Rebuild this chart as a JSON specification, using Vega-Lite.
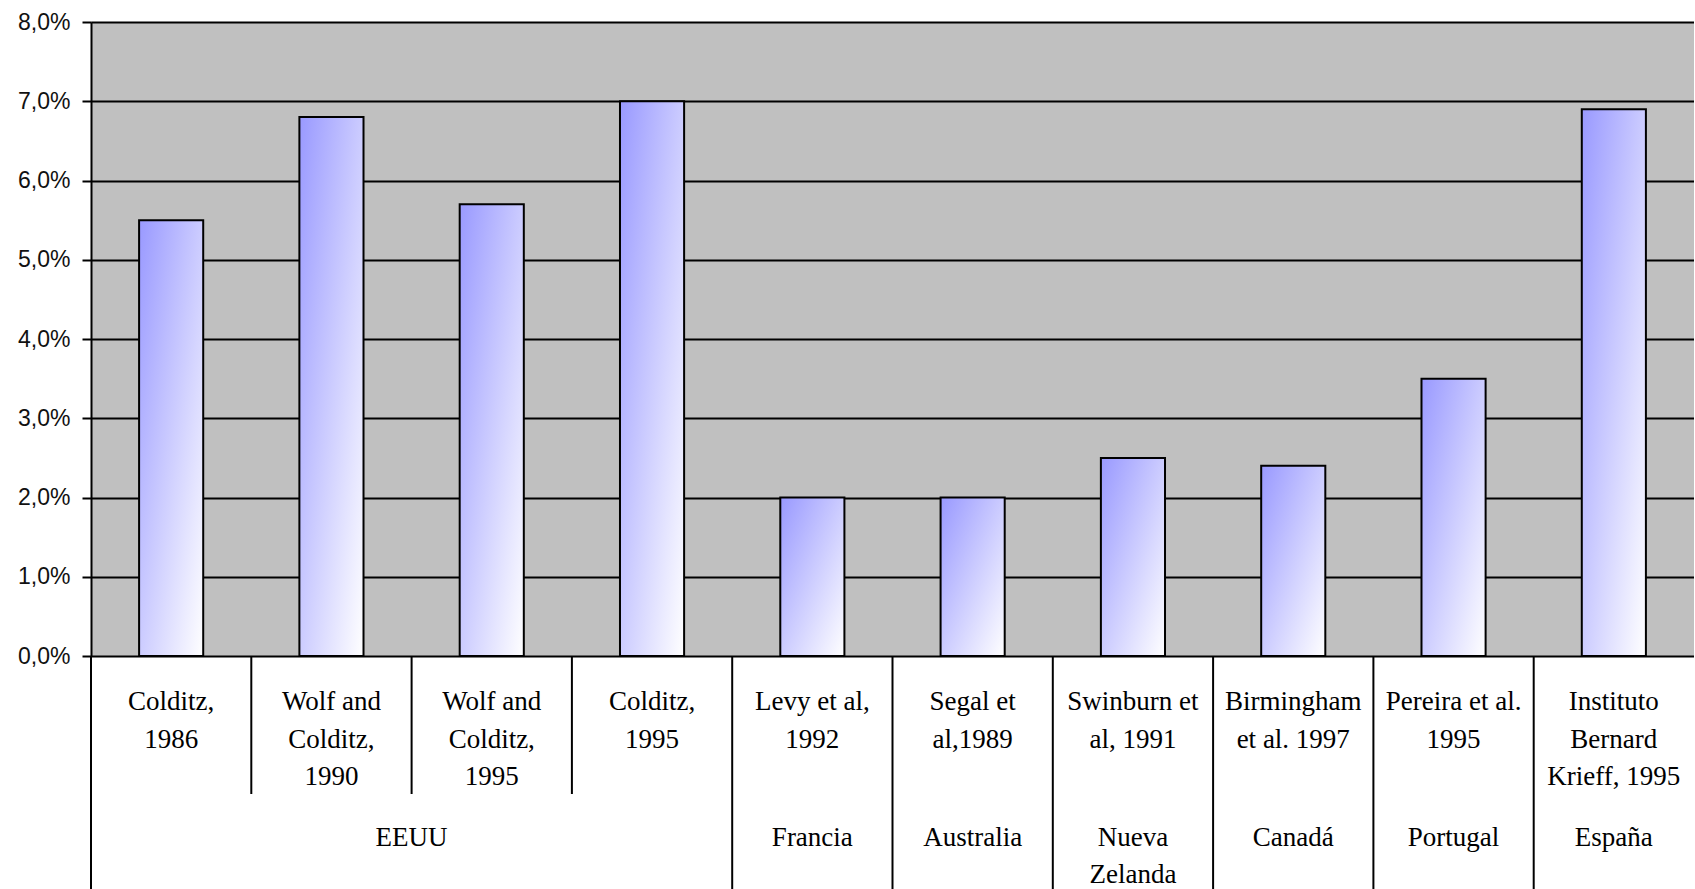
{
  "$schema": "https://vega.github.io/schema/vega-lite/v6.json",
  "usermeta": {"embedOptions": {"actions": false}},
  "background": "white",
  "padding": {"left": 17, "top": 11, "right": 0, "bottom": 0},
  "spacing": 0,
  "bounds": "flush",
  "config": {"view": {"stroke": null}},
  "datasets": {
    "estudios": [
      {"estudio": "Colditz,\n1986", "pais": "EEUU", "prevalencia": 0.055},
      {"estudio": "Wolf and\nColditz,\n1990", "pais": "EEUU", "prevalencia": 0.068},
      {"estudio": "Wolf and\nColditz,\n1995", "pais": "EEUU", "prevalencia": 0.057},
      {"estudio": "Colditz,\n1995", "pais": "EEUU", "prevalencia": 0.070},
      {"estudio": "Levy et al,\n1992", "pais": "Francia", "prevalencia": 0.020},
      {"estudio": "Segal et\nal,1989", "pais": "Australia", "prevalencia": 0.020},
      {"estudio": "Swinburn et\nal, 1991", "pais": "Nueva Zelanda", "prevalencia": 0.025},
      {"estudio": "Birmingham\net al. 1997", "pais": "Canadá", "prevalencia": 0.024},
      {"estudio": "Pereira et al.\n1995", "pais": "Portugal", "prevalencia": 0.035},
      {"estudio": "Instituto\nBernard\nKrieff, 1995", "pais": "España", "prevalencia": 0.069}
    ]
  },
  "resolve": {"scale": {"x": "independent", "y": "independent"}},
  "vconcat": [
    {
      "width": 1603,
      "height": 634,
      "view": {"fill": "#C0C0C0", "stroke": null},
      "data": {"name": "estudios"},
      "mark": {
        "type": "bar",
        "stroke": "#000000",
        "strokeWidth": 2,
        "fill": {
          "gradient": "linear",
          "x1": 0, "y1": 0, "x2": 1, "y2": 1,
          "stops": [
            {"offset": 0, "color": "#9999FF"},
            {"offset": 1, "color": "#FFFFFF"}
          ]
        }
      },
      "encoding": {
        "x": {
          "field": "estudio",
          "type": "nominal",
          "sort": null,
          "scale": {"paddingInner": 0.6, "paddingOuter": 0.3},
          "axis": null
        },
        "y": {
          "field": "prevalencia",
          "type": "quantitative",
          "scale": {"domain": [0, 0.08], "nice": false},
          "axis": {
            "title": null,
            "values": [0, 0.01, 0.02, 0.03, 0.04, 0.05, 0.06, 0.07, 0.08],
            "format": ".1%",
            "labelExpr": "replace(datum.label, '.', ',')",
            "grid": true,
            "gridColor": "#000000",
            "gridWidth": 2,
            "gridOpacity": 1,
            "domainColor": "#000000",
            "domainWidth": 2,
            "tickColor": "#000000",
            "tickWidth": 2,
            "tickSize": 9,
            "labelPadding": 12,
            "labelFont": "Liberation Sans",
            "labelFontSize": 23,
            "labelColor": "#111111",
            "labelFlush": false,
            "labelOverlap": false,
            "zindex": 0
          }
        }
      }
    },
    {
      "width": 1603,
      "height": 138,
      "data": {"name": "estudios"},
      "layer": [
        {
          "mark": {"type": "rule", "stroke": "#000000", "strokeWidth": 2},
          "encoding": {
            "x": {
              "field": "estudio",
              "type": "nominal",
              "sort": null,
              "bandPosition": 0,
              "scale": {"paddingInner": 0, "paddingOuter": 0},
              "axis": null
            }
          }
        },
        {
          "mark": {
            "type": "text",
            "font": "Liberation Serif",
            "fontSize": 27,
            "lineHeight": 37.5,
            "lineBreak": "\n",
            "baseline": "top",
            "align": "center",
            "dy": -36,
            "fill": "#000000"
          },
          "encoding": {
            "x": {
              "field": "estudio",
              "type": "nominal",
              "sort": null,
              "scale": {"paddingInner": 0, "paddingOuter": 0},
              "axis": null
            },
            "text": {"field": "estudio"}
          }
        }
      ]
    },
    {
      "width": 1603,
      "height": 95,
      "data": {"name": "estudios"},
      "transform": [
        {"window": [{"op": "row_number", "as": "n"}]},
        {
          "aggregate": [
            {"op": "min", "field": "n", "as": "primero"},
            {"op": "max", "field": "n", "as": "ultimo"}
          ],
          "groupby": ["pais"]
        },
        {"calculate": "datum.primero - 1", "as": "borde"},
        {"calculate": "(datum.primero - 1 + datum.ultimo) / 2", "as": "centro"}
      ],
      "layer": [
        {
          "mark": {"type": "rule", "stroke": "#000000", "strokeWidth": 2},
          "encoding": {
            "x": {
              "field": "borde",
              "type": "quantitative",
              "scale": {"domain": [0, 10], "nice": false, "zero": true},
              "axis": null
            }
          }
        },
        {
          "mark": {
            "type": "text",
            "font": "Liberation Serif",
            "fontSize": 27,
            "lineHeight": 37.5,
            "lineBreak": " ",
            "baseline": "top",
            "align": "center",
            "dy": -17,
            "fill": "#000000"
          },
          "encoding": {
            "x": {
              "field": "centro",
              "type": "quantitative",
              "scale": {"domain": [0, 10], "nice": false, "zero": true},
              "axis": null
            },
            "text": {"field": "pais"}
          }
        }
      ]
    }
  ]
}
